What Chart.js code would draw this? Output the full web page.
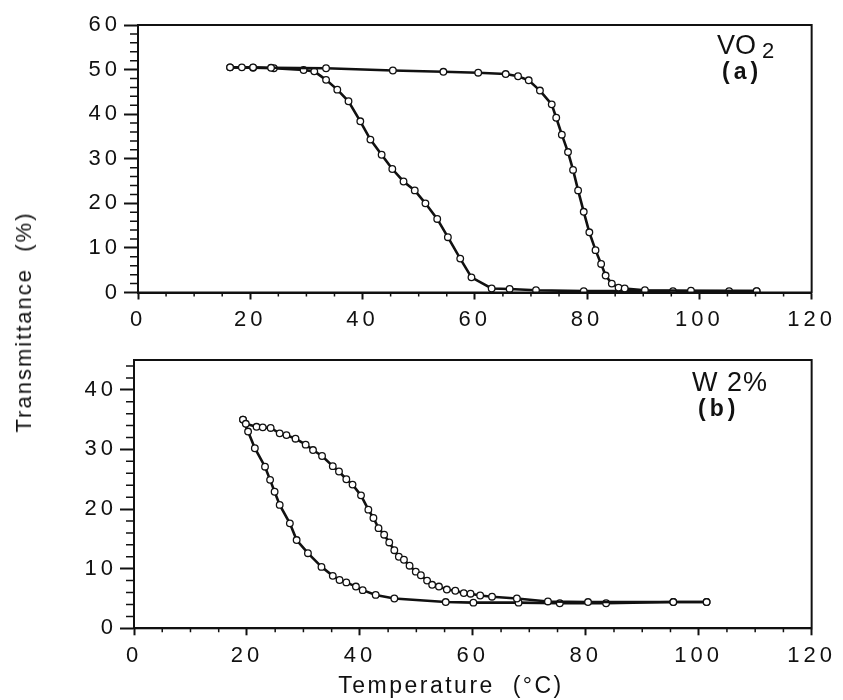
<!DOCTYPE html>
<html><head><meta charset="utf-8">
<script src="https://cdn.jsdelivr.net/npm/chart.js@4.4.1/dist/chart.umd.min.js"></script>
<style>
body{margin:0;background:#fff;width:843px;height:700px;position:relative;overflow:hidden;font-family:"Liberation Sans",Arial,sans-serif;color:#111}
canvas{position:absolute;left:0}
.t{position:absolute;white-space:nowrap;line-height:1}
</style></head><body>
<canvas id="ca" width="843" height="332" style="top:0;width:843px;height:332px"></canvas>
<canvas id="cb" width="843" height="370" style="top:330px;width:843px;height:370px"></canvas>
<div class="t" style="left:24px;top:322px;font-size:22px;letter-spacing:2px;transform:translate(-50%,-50%) rotate(-90deg)">Transmittance&nbsp;&nbsp;(%)</div>
<div class="t" style="left:451px;top:674px;font-size:23px;letter-spacing:2.5px;transform:translateX(-50%)">Temperature&nbsp;&nbsp;(°C)</div>
<div class="t" style="left:717px;top:32px;font-size:27px">VO</div>
<div class="t" style="left:762px;top:40px;font-size:22px">2</div>
<div class="t" style="left:722px;top:60px;font-size:23px;font-weight:bold;letter-spacing:4px">(a)</div>
<div class="t" style="left:692px;top:369px;font-size:27px;letter-spacing:1px">W 2%</div>
<div class="t" style="left:698px;top:397px;font-size:23px;font-weight:bold;letter-spacing:4px">(b)</div>
<script>
// ---- data ----
const xTicks = [0, 20, 40, 60, 80, 100, 120];
const yTicksA = [0, 10, 20, 30, 40, 50, 60];
const yTicksB = [0, 10, 20, 30, 40];

// (a) VO2 heating
const aHeatT  = [16.4,18.5,20.5,23.7,33.5,45.4,54.4,60.6,65.5,67.7,69.6,71.6,73.7,74.5,75.5,76.6,77.5,78.4,79.4,80.4,81.5,82.5,83.3,84.4,85.6,86.7,90.3,98.5,110.2];
const aHeatTr = [50.5,50.5,50.5,50.4,50.3,49.8,49.5,49.3,49.0,48.5,47.6,45.3,42.2,39.2,35.4,31.5,27.5,22.9,18.1,13.5,9.5,6.4,3.8,2.0,1.1,0.9,0.5,0.4,0.3];
// (a) VO2 cooling
const aCoolT  = [110.2,105.3,95.3,79.4,70.9,66.2,63.0,59.4,57.4,55.2,53.3,51.2,49.3,47.3,45.3,43.4,41.4,39.6,37.5,35.5,33.5,31.4,29.5,24.2,20.5,16.4];
const aCoolTr = [0.3,0.3,0.3,0.3,0.5,0.8,0.9,3.4,7.6,12.4,16.5,20.0,22.9,24.9,27.7,30.9,34.3,38.4,42.9,45.5,47.7,49.6,49.9,50.3,50.4,50.5];

// (b) W 2% heating
const bHeatT  = [19.3,19.8,21.7,22.8,24.2,25.8,27.0,28.6,30.4,31.7,33.3,35.2,36.3,37.6,38.7,40.2,41.5,42.4,43.3,44.3,45.2,46.1,46.9,47.8,48.8,49.9,50.8,51.9,52.8,54.0,55.4,56.9,58.4,59.6,61.3,63.4,67.8,73.3,80.4,95.5,101.4];
const bHeatTr = [35.0,34.3,33.8,33.7,33.6,32.7,32.4,31.8,30.8,29.9,28.9,27.2,26.3,25.0,24.1,22.3,19.9,18.5,16.8,15.7,14.4,13.1,12.0,11.5,10.5,9.5,8.9,8.0,7.3,7.0,6.5,6.3,5.9,5.8,5.5,5.3,5.0,4.5,4.4,4.4,4.4];
// (b) W 2% cooling
const bCoolT  = [101.4,95.5,83.6,75.4,68.1,60.1,55.2,46.1,42.8,40.5,39.3,37.6,36.4,35.2,33.2,30.8,28.8,27.6,25.8,24.9,24.1,23.2,21.4,20.2,19.3];
const bCoolTr = [4.4,4.4,4.2,4.2,4.3,4.3,4.4,5.0,5.6,6.4,7.0,7.7,8.1,8.8,10.3,12.6,14.8,17.6,20.7,22.9,24.9,27.1,30.2,33.0,35.0];

// ---- build ----
const INK = '#111';
const zip = (xs, ys) => xs.map((x, i) => ({x, y: ys[i]}));
const tickFont = {family: '"Liberation Sans", Arial, sans-serif', size: 22};

function ds(xs, ys) {
  return {
    data: zip(xs, ys), showLine: true, borderColor: INK, borderWidth: 2.6,
    pointRadius: 3.3, pointBorderWidth: 1.3, pointBackgroundColor: '#fff',
    pointBorderColor: INK, tension: 0
  };
}

const framePlugin = {
  id: 'frame',
  beforeLayout(chart) { chart.ctx.letterSpacing = '4px'; },
  beforeDraw(chart) { chart.ctx.letterSpacing = '4px'; },
  afterDraw(chart, args, o) {
    const {ctx, chartArea: a, scales: {x, y}} = chart;
    ctx.save();
    ctx.strokeStyle = INK;
    ctx.lineWidth = 2;
    ctx.strokeRect(a.left, a.top, a.right - a.left, a.bottom - a.top);
    ctx.lineWidth = 1.5;
    ctx.beginPath();
    for (let v = x.min; v <= x.max + 1e-9; v += o.xMinor) {
      if (Math.abs(v % o.xMajor) < 1e-9) continue;
      const px = x.getPixelForValue(v);
      ctx.moveTo(px, a.bottom); ctx.lineTo(px, a.bottom + o.xLen);
    }
    for (let v = y.min; v <= y.max + 1e-9; v += o.yMinor) {
      if (Math.abs(v % o.yMajor) < 1e-9) continue;
      const py = y.getPixelForValue(v);
      ctx.moveTo(a.left, py); ctx.lineTo(a.left - o.yLen, py);
    }
    ctx.stroke();
    ctx.restore();
  }
};

function makeChart(id, datasets, yMax, yTicks, pad, yW, xH) {
  return new Chart(document.getElementById(id), {
    type: 'scatter',
    data: {datasets},
    plugins: [framePlugin],
    options: {
      responsive: false, animation: false, devicePixelRatio: 1,
      layout: {padding: pad},
      plugins: {legend: {display: false}, tooltip: {enabled: false},
        frame: {xMinor: 5, xMajor: 20, xLen: 4, yMinor: 2, yMajor: 10, yLen: 8}},
      scales: {
        x: {
          type: 'linear', min: 0, max: 120,
          afterBuildTicks: s => { s.ticks = xTicks.map(v => ({value: v})); },
          ticks: {font: tickFont, color: INK, padding: 7, maxRotation: 0, autoSkip: false},
          grid: {drawOnChartArea: false, tickLength: 7, tickColor: INK, tickWidth: 2},
          border: {color: INK, width: 2},
          afterFit: s => { s.height = xH; }
        },
        y: {
          type: 'linear', min: 0, max: yMax,
          afterBuildTicks: s => { s.ticks = yTicks.map(v => ({value: v})); },
          ticks: {font: tickFont, color: INK, padding: 3, autoSkip: false},
          grid: {drawOnChartArea: false, tickLength: 14, tickColor: INK, tickWidth: 2},
          border: {color: INK, width: 2},
          afterFit: s => { s.width = yW; }
        }
      }
    }
  });
}

makeChart('ca', [ds(aHeatT, aHeatTr), ds(aCoolT, aCoolTr)], 60, yTicksA,
  {left: 0, right: 25, top: 25, bottom: 0}, 138, 39.5);
makeChart('cb', [ds(bHeatT, bHeatTr), ds(bCoolT, bCoolTr)], 45, yTicksB,
  {left: 0, right: 28, top: 30, bottom: 0}, 134, 71.7);
</script>
</body></html>
